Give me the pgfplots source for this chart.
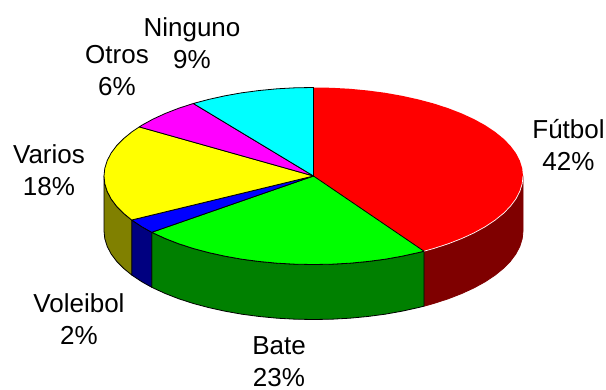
\documentclass[border=0pt]{standalone}
\usepackage{fontspec}
\setmainfont{Liberation Sans}
\usepackage{pgfplots}
\pgfplotsset{compat=1.18}
\definecolor{dred}{HTML}{7F0000}
\definecolor{dgreen}{HTML}{008000}
\definecolor{dblue}{HTML}{000080}
\definecolor{dolive}{HTML}{808000}
\definecolor{pyellow}{HTML}{FFFF00}
\definecolor{pmagenta}{HTML}{FF00FF}
\definecolor{pcyan}{HTML}{00FFFF}
\definecolor{pgreen}{HTML}{00FF00}
\definecolor{pblue}{HTML}{0000FF}
\definecolor{pred}{HTML}{FF0000}
\newcommand{\lab}[4]{\node[anchor=base,inner sep=0pt,font=\fontsize{26}{30}\selectfont,text=black] at (axis cs:#1,#2) {#3};\node[anchor=base,inner sep=0pt,font=\fontsize{26}{30}\selectfont,text=black] at (axis cs:#1,#2+32) {#4};}
\begin{document}
\begin{tikzpicture}[x=1pt,y=1pt]
\begin{axis}[
  scale only axis, width=606pt, height=390pt,
  xmin=0, xmax=606, ymin=0, ymax=390, y dir=reverse,
  hide axis, clip=false,
  every axis plot/.append style={no markers, line width=0.8pt, line join=round, draw=black},
]
\path (axis cs:0,0) rectangle (axis cs:606,390);
% --- side walls
\addplot[fill=dred,draw=dred] coordinates {(523.0,176.0)(522.2,183.7)(519.8,191.4)(515.9,198.9)(510.4,206.3)(503.4,213.4)(494.9,220.3)(485.1,226.8)(474.0,232.9)(461.6,238.6)(448.2,243.8)(433.7,248.5)(424.0,251.2)
 (424.0,306.2)(433.7,303.5)(448.2,298.8)(461.6,293.6)(474.0,287.9)(485.1,281.8)(494.9,275.3)(503.4,268.4)(510.4,261.3)(515.9,253.9)(519.8,246.4)(522.2,238.7)(523.0,231.0)} --cycle;
\addplot[fill=dgreen] coordinates {(424.0,251.2)(418.3,252.6)(402.0,256.2)(385.2,259.2)(367.7,261.5)(349.9,263.2)(331.8,264.2)(313.5,264.5)(295.2,264.2)(277.1,263.2)(259.3,261.5)(241.8,259.2)(225.0,256.2)(208.7,252.6)(193.3,248.5)(178.8,243.8)(165.4,238.6)(151.7,232.3)
 (151.7,287.3)(165.4,293.6)(178.8,298.8)(193.3,303.5)(208.7,307.6)(225.0,311.2)(241.8,314.2)(259.3,316.5)(277.1,318.2)(295.2,319.2)(313.5,319.5)(331.8,319.2)(349.9,318.2)(367.7,316.5)(385.2,314.2)(402.0,311.2)(418.3,307.6)(424.0,306.2)} --cycle;
\addplot[fill=dblue] coordinates {(151.7,232.3)(141.9,226.8)(131.7,220.0)(131.7,275.0)(141.9,281.8)(151.7,287.3)} --cycle;
\addplot[fill=dolive] coordinates {(131.7,220.0)(123.6,213.4)(116.6,206.3)(111.1,198.9)(107.2,191.4)(104.8,183.7)(104.0,176.0)
 (104.0,231.0)(104.8,238.7)(107.2,246.4)(111.1,253.9)(116.6,261.3)(123.6,268.4)(131.7,275.0)} --cycle;
% --- top: Futbol 42
\addplot[fill=pred,draw=none] coordinates {(313.5,176.0)(313.5,87.5)(331.8,87.8)(349.9,88.8)(367.7,90.5)(385.2,92.8)(402.0,95.8)(418.3,99.4)(433.7,103.5)(448.2,108.2)(461.6,113.4)(474.0,119.1)(485.1,125.2)(494.9,131.7)(503.4,138.6)(510.4,145.7)(515.9,153.1)(519.8,160.6)(522.2,168.3)(523.0,176.0)(522.2,183.7)(519.8,191.4)(515.9,198.9)(510.4,206.3)(503.4,213.4)(494.9,220.3)(485.1,226.8)(474.0,232.9)(461.6,238.6)(448.2,243.8)(433.7,248.5)(424.0,251.2)} --cycle;
\addplot[draw=white,line width=0.7pt] coordinates {(523.0,176.0)(522.2,183.7)(519.8,191.4)(515.9,198.9)(510.4,206.3)(503.4,213.4)(494.9,220.3)(485.1,226.8)(474.0,232.9)(461.6,238.6)(448.2,243.8)(433.7,248.5)(424.0,251.2)};
% --- Bate 23
\addplot[fill=pgreen] coordinates {(313.5,176.0)(424.0,251.2)(418.3,252.6)(402.0,256.2)(385.2,259.2)(367.7,261.5)(349.9,263.2)(331.8,264.2)(313.5,264.5)(295.2,264.2)(277.1,263.2)(259.3,261.5)(241.8,259.2)(225.0,256.2)(208.7,252.6)(193.3,248.5)(178.8,243.8)(165.4,238.6)(151.7,232.3)} --cycle;
% --- Voleibol 2
\addplot[fill=pblue] coordinates {(313.5,176.0)(151.7,232.3)(141.9,226.8)(131.7,220.0)} --cycle;
% --- Varios 18
\addplot[fill=pyellow] coordinates {(313.5,176.0)(131.7,220.0)(123.6,213.4)(116.6,206.3)(111.1,198.9)(107.2,191.4)(104.8,183.7)(104.0,176.0)(104.8,168.3)(107.2,160.6)(111.1,153.1)(116.6,145.7)(123.6,138.6)(132.1,131.7)(139.3,126.9)} --cycle;
% --- Otros 6
\addplot[fill=pmagenta] coordinates {(313.5,176.0)(139.3,126.9)(141.9,125.2)(153.0,119.1)(165.4,113.4)(178.8,108.2)(193.3,103.5)} --cycle;
% --- Ninguno 9
\addplot[fill=pcyan] coordinates {(313.5,176.0)(193.3,103.5)(208.7,99.4)(225.0,95.8)(241.8,92.8)(259.3,90.5)(277.1,88.8)(295.2,87.8)(313.5,87.5)} --cycle;
% --- labels
\lab{568.5}{139}{Fútbol}{42\%}
\lab{192}{36.5}{Ninguno}{9\%}
\lab{117}{63.5}{Otros}{6\%}
\lab{49}{163.5}{Varios}{18\%}
\lab{79}{312.5}{Voleibol}{2\%}
\lab{279}{354.5}{Bate}{23\%}
\end{axis}
\end{tikzpicture}
\end{document}
